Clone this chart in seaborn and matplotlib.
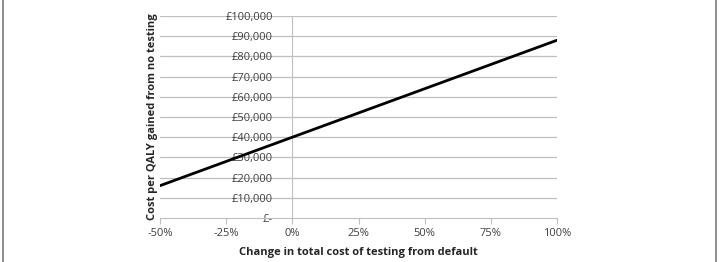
import matplotlib
matplotlib.use("Agg")
import matplotlib.pyplot as plt
import seaborn as sns
import pandas as pd
from matplotlib.patches import FancyBboxPatch

change_pct = [-50, -25, 0, 25, 50, 75, 100]
cost_per_qaly = [16000, 28000, 40000, 52000, 64000, 76000, 88000]
x_ticks = [-50, -25, 0, 25, 50, 75, 100]
x_tick_labels = ["-50%", "-25%", "0%", "25%", "50%", "75%", "100%"]
y_ticks = [0, 10000, 20000, 30000, 40000, 50000, 60000, 70000, 80000, 90000, 100000]
y_tick_labels = ["£-", "£10,000", "£20,000", "£30,000", "£40,000", "£50,000",
                 "£60,000", "£70,000", "£80,000", "£90,000", "£100,000"]

df = pd.DataFrame({"change": change_pct, "cost": cost_per_qaly})

sns.set_style("white")
plt.rcParams["font.family"] = ["Open Sans", "DejaVu Sans"]

fig = plt.figure(figsize=(7.19, 2.62), dpi=100)
ax = fig.add_axes([160 / 719, 1 - 218 / 262, (557 - 160) / 719, (218 - 16) / 262])

grid_c = "#bfbfbf"
for yv in y_ticks[1:]:
    ax.axhline(yv, color=grid_c, lw=0.9, zorder=0)

sns.lineplot(data=df, x="change", y="cost", ax=ax, color="black", lw=2.0, zorder=3)

ax.set_xlim(-50, 100)
ax.set_ylim(0, 100000)
ax.set_xticks(x_ticks)
ax.set_xticklabels(x_tick_labels)
ax.set_yticks(y_ticks)
ax.set_yticklabels(y_tick_labels)

for s in ["top", "right"]:
    ax.spines[s].set_visible(False)
ax.spines["left"].set_position(("data", 0))
ax.spines["left"].set_color(grid_c)
ax.spines["bottom"].set_color(grid_c)
ax.spines["left"].set_zorder(1)

ax.tick_params(axis="x", length=4, color=grid_c, labelsize=8, labelcolor="#404040", pad=3, direction="out", bottom=True)
ax.tick_params(axis="y", length=0, color=grid_c, labelsize=8, labelcolor="#404040", pad=14, direction="out", left=True)

ax.set_xlabel("Change in total cost of testing from default", fontsize=8, fontweight="bold",
              color="#262626", labelpad=6)
ax.set_ylabel("")
fig.text(152 / 719, 1 - 117 / 262, "Cost per QALY gained from no testing", rotation=90,
         ha="center", va="center", fontsize=8, fontweight="bold", color="#262626")

box = FancyBboxPatch((3 / 719, -0.05), 713 / 719, 1.1, boxstyle="round,pad=0,rounding_size=0.02",
                     transform=fig.transFigure, fill=False, ec="#606060", lw=1.0)
fig.patches.append(box)

fig.savefig("out.png", dpi=100)
